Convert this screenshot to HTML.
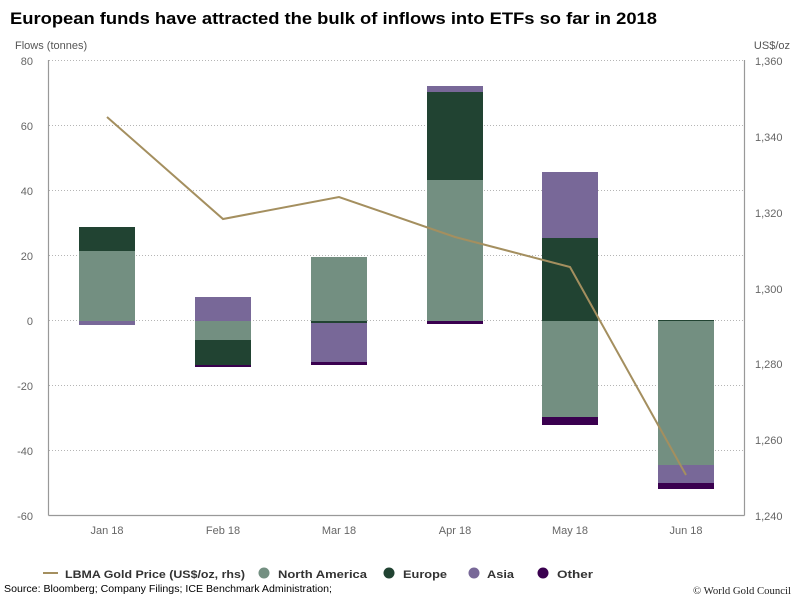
<!DOCTYPE html>
<html><head><meta charset="utf-8"><style>
html,body{margin:0;padding:0;background:#fff;}
svg{display:block;font-family:"Liberation Sans",Arial,sans-serif;}
</style></head><body>
<svg width="800" height="600" viewBox="0 0 800 600" xmlns="http://www.w3.org/2000/svg">
<rect width="800" height="600" fill="#fff"/>
<text x="10" y="24" font-size="17" font-weight="bold" fill="#000" textLength="647" lengthAdjust="spacingAndGlyphs">European funds have attracted the bulk of inflows into ETFs so far in 2018</text>
<text x="15" y="49" font-size="11" fill="#555">Flows (tonnes)</text>
<text x="790" y="49" font-size="11" fill="#555" text-anchor="end">US$/oz</text>
<!-- gridlines -->
<g stroke="#b5b5b5" stroke-width="1" stroke-dasharray="1,2">
<line x1="49" x2="744" y1="60.5" y2="60.5"/>
<line x1="49" x2="744" y1="125.5" y2="125.5"/>
<line x1="49" x2="744" y1="190.5" y2="190.5"/>
<line x1="49" x2="744" y1="255.5" y2="255.5"/>
<line x1="49" x2="744" y1="320.5" y2="320.5"/>
<line x1="49" x2="744" y1="385.5" y2="385.5"/>
<line x1="49" x2="744" y1="450.5" y2="450.5"/>
</g>
<g stroke="#999" stroke-width="1.2" fill="none">
<line x1="48.5" x2="48.5" y1="60" y2="515.5"/>
<line x1="744.5" x2="744.5" y1="60" y2="515.5"/>
<line x1="48.5" x2="744.5" y1="515.5" y2="515.5"/>
</g>
<!-- left ticks -->
<g font-size="11" fill="#666" text-anchor="end">
<text x="33" y="65">80</text>
<text x="33" y="130">60</text>
<text x="33" y="195">40</text>
<text x="33" y="260">20</text>
<text x="33" y="325">0</text>
<text x="33" y="390">-20</text>
<text x="33" y="455">-40</text>
<text x="33" y="520">-60</text>
</g>
<g font-size="11" fill="#666" text-anchor="start">
<text x="755" y="65">1,360</text>
<text x="755" y="141">1,340</text>
<text x="755" y="217">1,320</text>
<text x="755" y="293">1,300</text>
<text x="755" y="368">1,280</text>
<text x="755" y="444">1,260</text>
<text x="755" y="520">1,240</text>
</g>
<g font-size="11" fill="#666" text-anchor="middle">
<text x="107" y="534">Jan 18</text>
<text x="223" y="534">Feb 18</text>
<text x="339" y="534">Mar 18</text>
<text x="455" y="534">Apr 18</text>
<text x="570" y="534">May 18</text>
<text x="686" y="534">Jun 18</text>
</g>
<!-- bars -->
<!-- Jan -->
<rect x="79" y="227" width="56" height="24" fill="#214332"/>
<rect x="79" y="251" width="56" height="70" fill="#738f81"/>
<rect x="79" y="321" width="56" height="4" fill="#786898"/>
<!-- Feb -->
<rect x="195" y="297" width="56" height="24" fill="#786898"/>
<rect x="195" y="321" width="56" height="19" fill="#738f81"/>
<rect x="195" y="340" width="56" height="25" fill="#214332"/>
<rect x="195" y="365" width="56" height="2" fill="#3a004f"/>
<!-- Mar -->
<rect x="311" y="257" width="56" height="64" fill="#738f81"/>
<rect x="311" y="321" width="56" height="2" fill="#214332"/>
<rect x="311" y="323" width="56" height="39" fill="#786898"/>
<rect x="311" y="362" width="56" height="3" fill="#3a004f"/>
<!-- Apr -->
<rect x="427" y="86" width="56" height="6" fill="#786898"/>
<rect x="427" y="92" width="56" height="88" fill="#214332"/>
<rect x="427" y="180" width="56" height="141" fill="#738f81"/>
<rect x="427" y="321" width="56" height="3" fill="#3a004f"/>
<!-- May -->
<rect x="542" y="172" width="56" height="66" fill="#786898"/>
<rect x="542" y="238" width="56" height="83" fill="#214332"/>
<rect x="542" y="321" width="56" height="96" fill="#738f81"/>
<rect x="542" y="417" width="56" height="8" fill="#3a004f"/>
<!-- Jun -->
<rect x="658" y="320" width="56" height="1" fill="#214332"/>
<rect x="658" y="321" width="56" height="144" fill="#738f81"/>
<rect x="658" y="465" width="56" height="18" fill="#786898"/>
<rect x="658" y="483" width="56" height="6" fill="#3a004f"/>
<!-- line -->
<polyline points="107,117 223,219 339,197 455,237 570,267 686,475" fill="none" stroke="#a48f5f" stroke-width="2" stroke-linejoin="miter"/>
<!-- legend -->
<line x1="43" x2="58" y1="573" y2="573" stroke="#a48f5f" stroke-width="2"/>
<g font-size="11" font-weight="bold" fill="#333">
<text x="65" y="578" textLength="180" lengthAdjust="spacingAndGlyphs">LBMA Gold Price (US$/oz, rhs)</text>
<circle cx="264" cy="573" r="5.5" fill="#738f81"/>
<text x="278" y="578" textLength="89" lengthAdjust="spacingAndGlyphs">North America</text>
<circle cx="389" cy="573" r="5.5" fill="#214332"/>
<text x="403" y="578" textLength="44" lengthAdjust="spacingAndGlyphs">Europe</text>
<circle cx="474" cy="573" r="5.5" fill="#786898"/>
<text x="487" y="578" textLength="27" lengthAdjust="spacingAndGlyphs">Asia</text>
<circle cx="543" cy="573" r="5.5" fill="#3a004f"/>
<text x="557" y="578" textLength="36" lengthAdjust="spacingAndGlyphs">Other</text>
</g>
<text x="4" y="592" font-size="10" fill="#000" textLength="328" lengthAdjust="spacingAndGlyphs">Source: Bloomberg; Company Filings; ICE Benchmark Administration;</text>
<text x="791" y="594" font-size="11" fill="#222" text-anchor="end" font-family="'Liberation Serif',serif" textLength="98" lengthAdjust="spacingAndGlyphs">© World Gold Council</text>
</svg>
</body></html>
